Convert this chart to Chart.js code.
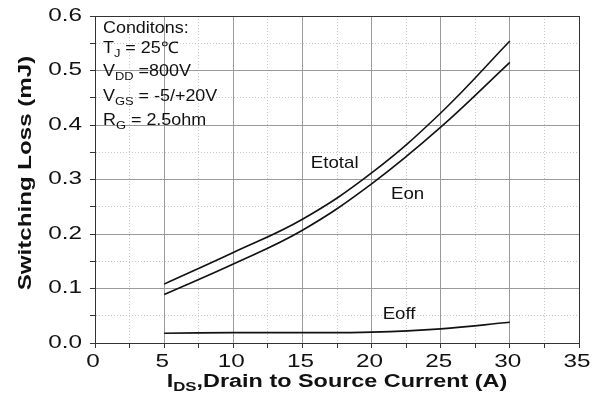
<!doctype html>
<html lang="en">
  <head>
    <meta charset="utf-8">
    <title>Switching Loss vs Drain Current</title>
    <style>
      * { margin: 0; padding: 0; }
      body { background: #fff; }
      .chartBox { width: 603px; height: 404px; }
    </style>
  </head>
  <body>
    <div class="chartBox">
      <canvas id="myChart"></canvas>
    </div>
    <script src="https://cdn.jsdelivr.net/npm/chart.js"></script>
    <script>
    // data
    const current = [5, 10, 15, 20, 25, 30];
    const eTotal = [0.108, 0.166, 0.227, 0.312, 0.422, 0.554];
    const eOn = [0.089, 0.145, 0.207, 0.292, 0.396, 0.515];
    const eOff = [0.018, 0.019, 0.019, 0.020, 0.026, 0.038];
    const xTicks = [0, 5, 10, 15, 20, 25, 30, 35];
    const yTicks = [0.0, 0.1, 0.2, 0.3, 0.4, 0.5, 0.6];

    const FONT = '"Liberation Sans", Arial, sans-serif';

    function toPoints(ys) {
      return current.map((x, i) => ({ x: x, y: ys[i] }));
    }

    function isMajor(v, step) {
      const r = Math.round(v / step * 1000) / 1000;
      return Math.abs(r - Math.round(r)) < 1e-6;
    }

    // major check from a scriptable context (tick may be missing)
    function ctxMajor(c, step) {
      return !c.tick || isMajor(c.tick.value, step);
    }

    // text with subscript parts: [[text, isSub], ...], stretched by sx
    function richWidth(ctx, parts, size, bold) {
      let w = 0;
      parts.forEach(p => {
        const s = p[1] ? size * 0.72 : size;
        ctx.font = (bold ? 'bold ' : '') + s + 'px ' + FONT;
        w += ctx.measureText(p[0]).width;
      });
      return w;
    }

    function drawRich(ctx, parts, x, y, size, bold, sx) {
      ctx.save();
      ctx.translate(x, y);
      ctx.scale(sx, 1);
      let cx = 0;
      parts.forEach(p => {
        const s = p[1] ? size * 0.72 : size;
        ctx.font = (bold ? 'bold ' : '') + s + 'px ' + FONT;
        ctx.fillText(p[0], cx, p[1] ? size * 0.32 : 0);
        cx += ctx.measureText(p[0]).width;
      });
      ctx.restore();
    }

    function drawStretched(ctx, text, x, y, font, sx, align) {
      ctx.save();
      ctx.translate(x, y);
      ctx.scale(sx, 1);
      ctx.font = font;
      ctx.textAlign = align;
      ctx.fillText(text, 0, 0);
      ctx.restore();
    }

    const labelsPlugin = {
      id: 'labels',
      afterDraw(chart) {
        const ctx = chart.ctx;
        const a = chart.chartArea;
        const xs = chart.scales.x, ys = chart.scales.y;
        ctx.save();

        // plot frame
        ctx.strokeStyle = '#333';
        ctx.lineWidth = 1;
        ctx.strokeRect(a.left + 0.5, a.top + 0.5, a.right - a.left, a.bottom - a.top);

        ctx.fillStyle = '#111';
        ctx.textBaseline = 'middle';
        ctx.textAlign = 'left';

        // tick labels
        const tickFont = '18px ' + FONT;
        xs.ticks.forEach(t => {
          if (!isMajor(t.value, 5)) return;
          drawStretched(ctx, String(t.value), xs.getPixelForValue(t.value) - 2, 362, tickFont, 1.35, 'center');
        });
        ys.ticks.forEach(t => {
          if (!isMajor(t.value, 0.1)) return;
          drawStretched(ctx, t.value.toFixed(1), 82, ys.getPixelForValue(t.value), tickFont, 1.35, 'right');
        });

        // conditions block
        const cx = a.left + 8;
        const size = 16;
        const sx = 1.12;
        drawRich(ctx, [['Conditons:', false]], cx, 29, size, false, sx);
        drawRich(ctx, [['T', false], ['J', true], [' = 25\u2103', false]], cx, 49, size, false, sx);
        drawRich(ctx, [['V', false], ['DD', true], [' =800V', false]], cx, 72, size, false, sx);
        drawRich(ctx, [['V', false], ['GS', true], [' = -5/+20V', false]], cx, 97, size, false, sx);
        drawRich(ctx, [['R', false], ['G', true], [' = 2.5ohm', false]], cx, 121, size, false, sx);

        // curve names
        const nameFont = '17px ' + FONT;
        drawStretched(ctx, 'Etotal', xs.getPixelForValue(15.6), ys.getPixelForValue(0.33), nameFont, 1.1, 'left');
        drawStretched(ctx, 'Eon', xs.getPixelForValue(21.4), ys.getPixelForValue(0.272), nameFont, 1.1, 'left');
        drawStretched(ctx, 'Eoff', xs.getPixelForValue(20.8), ys.getPixelForValue(0.053), nameFont, 1.1, 'left');

        // x axis title with subscript
        const xt = [['I', false], ['DS', true], [',Drain to Source Current (A)', false]];
        const xsx = 1.3;
        const w = richWidth(ctx, xt, 18, true) * xsx;
        drawRich(ctx, xt, (a.left + a.right) / 2 - w / 2, 382, 18, true, xsx);

        // y axis title
        ctx.translate(26, 173);
        ctx.rotate(-Math.PI / 2);
        drawStretched(ctx, 'Switching Loss (mJ)', 0, 0, 'bold 18px ' + FONT, 1.34, 'center');
        ctx.restore();
      }
    };

    const line = (label, ys) => ({
      label: label,
      data: toPoints(ys),
      borderColor: '#111',
      borderWidth: 1.6,
      pointRadius: 0,
      fill: false,
      tension: 0.4
    });

    const config = {
      type: 'line',
      data: {
        datasets: [line('Etotal', eTotal), line('Eon', eOn), line('Eoff', eOff)]
      },
      options: {
        responsive: true,
        maintainAspectRatio: false,
        animation: false,
        layout: { padding: { top: 16, right: 24, left: 0, bottom: 0 } },
        plugins: { legend: { display: false }, tooltip: { enabled: false } },
        scales: {
          x: {
            type: 'linear',
            min: xTicks[0],
            max: xTicks[xTicks.length - 1],
            afterFit(s) { s.height = 61; },
            ticks: {
              stepSize: 2.5,
              autoSkip: false,
              maxRotation: 0,
              color: 'rgba(0,0,0,0)',
              font: { family: FONT, size: 17 },
              padding: 1
            },
            grid: {
              color: c => ctxMajor(c, 5) ? '#9a9a9a' : '#c8c8c8',
              tickColor: '#333',
              tickLength: c => ctxMajor(c, 5) ? 5 : 3
            },
            border: {
              color: '#333',
              dash: c => ctxMajor(c, 5) ? [] : [1, 2]
            }
          },
          y: {
            min: yTicks[0],
            max: yTicks[yTicks.length - 1],
            afterFit(s) { s.width = 95; },
            ticks: {
              stepSize: 0.05,
              autoSkip: false,
              color: 'rgba(0,0,0,0)',
              font: { family: FONT, size: 17 },
              padding: 4
            },
            grid: {
              color: c => ctxMajor(c, 0.1) ? '#9a9a9a' : '#c8c8c8',
              tickColor: '#333',
              tickLength: c => ctxMajor(c, 0.1) ? 5 : 3
            },
            border: {
              color: '#333',
              dash: c => ctxMajor(c, 0.1) ? [] : [1, 2]
            }
          }
        }
      },
      plugins: [labelsPlugin]
    };

    new Chart(document.getElementById('myChart'), config);
    </script>
  </body>
</html>
